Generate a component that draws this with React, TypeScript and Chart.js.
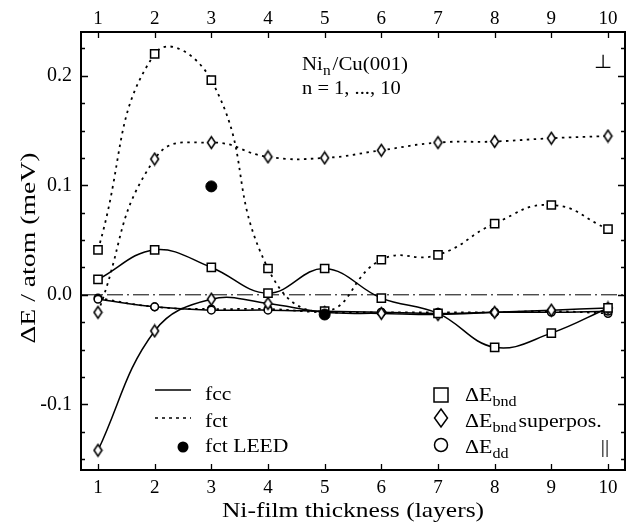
import React, { useEffect, useRef } from "react";
import { Chart, registerables } from "chart.js";
Chart.register(...registerables);

const layers = [1, 2, 3, 4, 5, 6, 7, 8, 9, 10];
const fccBnd = [0.014, 0.041, 0.025, 0.0015, 0.024, -0.003, -0.017, -0.048, -0.035, -0.012];
const fctBnd = [0.041, 0.22, 0.196, 0.024, -0.015, 0.032, 0.0365, 0.065, 0.082, 0.06];
const fccSup = [-0.142, -0.033, -0.004, -0.008, -0.016, -0.017, -0.018, -0.016, -0.014, -0.012];
const fctSup = [-0.016, 0.124, 0.139, 0.126, 0.125, 0.132, 0.139, 0.14, 0.143, 0.145];
const fccDd = [-0.004, -0.011, -0.014, -0.014, -0.015, -0.016, -0.017, -0.016, -0.016, -0.015];
const fctDd = [-0.003, -0.011, -0.013, -0.013, -0.016, -0.016, -0.016, -0.016, -0.015, -0.017];
const leedX = [3, 5];
const leedY = [0.099, -0.018];
const zeroLineX = [0.7, 10.3];
const zeroLineY = [0, 0];

const xMin = 0.7;
const xMax = 10.3;
const yMin = -0.16;
const yMax = 0.24;
const xTickValues = [1, 2, 3, 4, 5, 6, 7, 8, 9, 10];
const yMajorTicks = [-0.1, 0, 0.1, 0.2];
const yMinorTicks = [-0.15, -0.125, -0.075, -0.05, -0.025, 0.025, 0.05, 0.075, 0.125, 0.15, 0.175, 0.225];

const FONT = '"Liberation Serif", "Times New Roman", serif';

const toPts = (xs: number[], ys: number[]) => xs.map((x, i) => ({ x, y: ys[i] }));

function makeDiamond(w: number, h: number, lw: number) {
  const c = document.createElement("canvas");
  c.width = w;
  c.height = h;
  const g = c.getContext("2d")!;
  g.beginPath();
  g.moveTo(w / 2, lw);
  g.lineTo(w - lw, h / 2);
  g.lineTo(w / 2, h - lw);
  g.lineTo(lw, h / 2);
  g.closePath();
  g.fillStyle = "#fff";
  g.fill();
  g.lineWidth = lw;
  g.strokeStyle = "#000";
  g.stroke();
  return c;
}

// text drawn with a horizontal stretch (the reference face is wider than Liberation Serif)
function stretchText(ctx: CanvasRenderingContext2D, text: string, x: number, y: number, size: number, sx: number, align: CanvasTextAlign = "left") {
  ctx.save();
  ctx.font = `${size}px ${FONT}`;
  ctx.textAlign = align;
  ctx.translate(x, y);
  ctx.scale(sx, 1);
  ctx.fillText(text, 0, 0);
  const w = ctx.measureText(text).width * sx;
  ctx.restore();
  return w;
}

function subText(ctx: CanvasRenderingContext2D, x: number, y: number, main: string, sub: string, rest: string, size: number, sx: number) {
  let cx = x + stretchText(ctx, main, x, y, size, sx);
  cx += stretchText(ctx, sub, cx, y + size * 0.24, Math.round(size * 0.72), sx);
  if (rest) stretchText(ctx, rest, cx + 2, y, size, sx);
}

const decorPlugin = {
  id: "decor",
  afterDraw(chart: any) {
    const ctx: CanvasRenderingContext2D = chart.ctx;
    const { left, right, top, bottom } = chart.chartArea;
    const xs = chart.scales.x;
    const ys = chart.scales.y;
    ctx.save();
    ctx.strokeStyle = "#000";
    ctx.fillStyle = "#000";
    ctx.textBaseline = "alphabetic";
    // frame
    ctx.lineWidth = 2;
    ctx.strokeRect(left, top, right - left, bottom - top);
    // inward ticks
    ctx.lineWidth = 1.3;
    ctx.beginPath();
    xTickValues.forEach((v) => {
      const px = Math.round(xs.getPixelForValue(v)) + 0.5;
      ctx.moveTo(px, bottom);
      ctx.lineTo(px, bottom - 6);
      ctx.moveTo(px, top);
      ctx.lineTo(px, top + 6);
    });
    yMajorTicks.forEach((v) => {
      const py = Math.round(ys.getPixelForValue(v)) + 0.5;
      ctx.moveTo(left, py);
      ctx.lineTo(left + 7, py);
      ctx.moveTo(right, py);
      ctx.lineTo(right - 7, py);
    });
    yMinorTicks.forEach((v) => {
      const py = Math.round(ys.getPixelForValue(v)) + 0.5;
      ctx.moveTo(left, py);
      ctx.lineTo(left + 4, py);
      ctx.moveTo(right, py);
      ctx.lineTo(right - 4, py);
    });
    ctx.stroke();

    // axis titles
    stretchText(ctx, "Ni-film thickness (layers)", (left + right) / 2, 517, 22, 1.16, "center");
    ctx.save();
    ctx.translate(35, 248);
    ctx.rotate(-Math.PI / 2);
    stretchText(ctx, "\u0394E / atom (meV)", 0, 0, 22, 1.26, "center");
    ctx.restore();

    // annotation
    subText(ctx, 302, 70, "Ni", "n", "/Cu(001)", 19, 1.1);
    stretchText(ctx, "n = 1, ..., 10", 302, 94, 19, 1.08);
    stretchText(ctx, "\u22a5", 603, 68, 19, 1.1, "center");
    stretchText(ctx, "||", 605, 453, 19, 1.1, "center");

    // left legend
    ctx.lineWidth = 1.6;
    ctx.setLineDash([]);
    ctx.beginPath();
    ctx.moveTo(155, 390);
    ctx.lineTo(191, 390);
    ctx.stroke();
    ctx.setLineDash([3, 4]);
    ctx.beginPath();
    ctx.moveTo(155, 418);
    ctx.lineTo(191, 418);
    ctx.stroke();
    ctx.setLineDash([]);
    ctx.beginPath();
    ctx.arc(183, 447, 5.5, 0, Math.PI * 2);
    ctx.fill();
    stretchText(ctx, "fcc", 205, 400, 18, 1.2);
    stretchText(ctx, "fct", 205, 427, 18, 1.2);
    stretchText(ctx, "fct LEED", 205, 452, 18, 1.2);

    // right legend markers
    ctx.lineWidth = 1.5;
    ctx.strokeRect(434, 388, 14, 14);
    ctx.beginPath();
    ctx.moveTo(441, 409);
    ctx.lineTo(447.5, 418);
    ctx.lineTo(441, 427);
    ctx.lineTo(434.5, 418);
    ctx.closePath();
    ctx.stroke();
    ctx.beginPath();
    ctx.arc(441, 445, 6.5, 0, Math.PI * 2);
    ctx.stroke();
    subText(ctx, 465, 401, "\u0394E", "bnd", "", 19, 1.15);
    subText(ctx, 465, 427, "\u0394E", "bnd", "superpos.", 19, 1.15);
    subText(ctx, 465, 453, "\u0394E", "dd", "", 19, 1.15);
    ctx.restore();
  },
};

export default function App() {
  const ref = useRef<HTMLCanvasElement>(null);
  useEffect(() => {
    if (!ref.current) return;
    const diamond = makeDiamond(11, 15, 1.6);
    const solid = { borderColor: "#000", borderWidth: 1.5, tension: 0.4, pointBorderColor: "#000", pointBackgroundColor: "#fff", pointBorderWidth: 1.5 };
    const dotted = { ...solid, borderDash: [2.5, 4.5], borderWidth: 1.8, tension: 0.48 };
    const tickFontX = { family: FONT, size: 19 };
    const chart = new Chart(ref.current, {
      type: "line",
      data: {
        datasets: [
          { label: "fct LEED", data: toPts(leedX, leedY), showLine: false, pointRadius: 5.5, pointStyle: "circle", pointBackgroundColor: "#000", pointBorderColor: "#000", borderColor: "#000" },
          { label: "fcc bnd", data: toPts(layers, fccBnd), ...solid, pointStyle: "rect", pointRadius: 5.8 },
          { label: "fct bnd", data: toPts(layers, fctBnd), ...dotted, pointStyle: "rect", pointRadius: 5.8 },
          { label: "fcc sup", data: toPts(layers, fccSup), ...solid, pointStyle: diamond, pointRadius: 5 },
          { label: "fct sup", data: toPts(layers, fctSup), ...dotted, pointStyle: diamond, pointRadius: 5 },
          { label: "fcc dd", data: toPts(layers, fccDd), ...solid, pointStyle: "circle", pointRadius: 3.8 },
          { label: "fct dd", data: toPts(layers, fctDd), ...dotted, pointStyle: "circle", pointRadius: 3.8 },
          { label: "zero", data: toPts(zeroLineX, zeroLineY), borderColor: "#000", borderWidth: 1, borderDash: [16, 4, 2, 4], pointRadius: 0, tension: 0 },
        ] as any,
      },
      options: {
        responsive: false,
        animation: false,
        events: [],
        layout: { padding: 0 },
        plugins: { legend: { display: false }, tooltip: { enabled: false } },
        scales: {
          x: {
            type: "linear",
            position: "bottom",
            min: xMin,
            max: xMax,
            grid: { display: false, drawTicks: false },
            border: { display: false },
            afterBuildTicks: (s: any) => { s.ticks = xTickValues.map((v) => ({ value: v })); },
            afterFit: (s: any) => { s.height = 59; },
            ticks: { color: "#000", font: tickFontX, padding: 7, maxRotation: 0, callback: (v: any) => String(v) },
          },
          x2: {
            type: "linear",
            position: "top",
            min: xMin,
            max: xMax,
            grid: { display: false, drawTicks: false },
            border: { display: false },
            afterBuildTicks: (s: any) => { s.ticks = xTickValues.map((v) => ({ value: v })); },
            afterFit: (s: any) => { s.height = 32; },
            ticks: { color: "#000", font: tickFontX, padding: 2, maxRotation: 0, callback: (v: any) => String(v) },
          },
          y: {
            type: "linear",
            position: "left",
            min: yMin,
            max: yMax,
            grid: { display: false, drawTicks: false },
            border: { display: false },
            afterBuildTicks: (s: any) => { s.ticks = yMajorTicks.map((v) => ({ value: v })); },
            afterFit: (s: any) => { s.width = 81; },
            ticks: { color: "#000", font: { family: FONT, size: 20 }, padding: 9, callback: (v: any) => Number(v).toFixed(1) },
          },
          y2: {
            type: "linear",
            position: "right",
            min: yMin,
            max: yMax,
            grid: { display: false, drawTicks: false },
            border: { display: false },
            afterFit: (s: any) => { s.width = 16; },
            ticks: { display: false },
          },
        },
      } as any,
      plugins: [decorPlugin],
    });
    return () => chart.destroy();
  }, []);
  return (
    <div style={{ position: "fixed", left: 0, top: 0, width: 641, height: 529, background: "#fff" }}>
      <canvas ref={ref} width={641} height={529} />
    </div>
  );
}
